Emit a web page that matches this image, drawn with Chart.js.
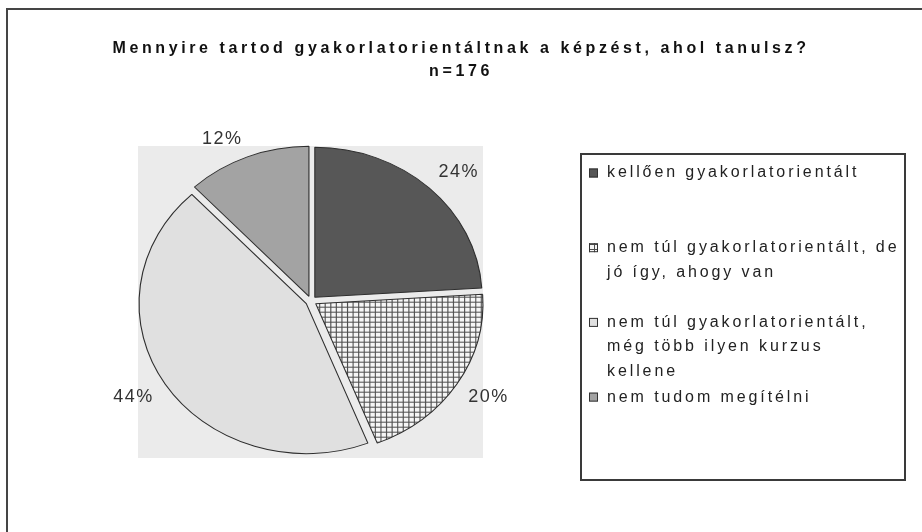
<!DOCTYPE html>
<html lang="hu">

<head>
    <meta charset="UTF-8">
    <title>Mennyire tartod gyakorlatorientáltnak a képzést?</title>
    <style>
        html, body { margin: 0; padding: 0; background: #fff; }
    </style>
</head>

<body>
    <canvas id="ctx" width="922" height="532"></canvas>

    <script src="https://cdn.jsdelivr.net/npm/chart.js"></script>
    <script>
        // Data
        const titleLines = ['Mennyire tartod gyakorlatorientáltnak a képzést, ahol tanulsz?', 'n=176'];
        const categories = [
            'kellően gyakorlatorientált',
            'nem túl gyakorlatorientált, de jó így, ahogy van',
            'nem túl gyakorlatorientált, még több ilyen kurzus kellene',
            'nem tudom megítélni'
        ];
        // how the legend wraps each category
        const legendLines = [
            ['kellően gyakorlatorientált'],
            ['nem túl gyakorlatorientált, de', 'jó így, ahogy van'],
            ['nem túl gyakorlatorientált,', 'még több ilyen kurzus', 'kellene'],
            ['nem tudom megítélni']
        ];
        const percents = [24, 20, 44, 12];

        const canvas = document.getElementById('ctx');
        const ctx = canvas.getContext('2d');

        // grid hatch for the second slice
        function makeHatch() {
            const c = document.createElement('canvas');
            c.width = 5;
            c.height = 5;
            const g = c.getContext('2d');
            g.fillStyle = '#f6f6f6';
            g.fillRect(0, 0, 5, 5);
            g.fillStyle = '#4e4e4e';
            g.fillRect(4, 0, 1, 5);
            g.fillRect(0, 4, 5, 1);
            return ctx.createPattern(c, 'repeat');
        }

        const sliceColors = ['#575757', makeHatch(), '#e0e0e0', '#a3a3a3'];

        // the Excel pie is a bit wider than tall, and every slice is pulled out
        const stretchX = 1.115;
        const explode = 5;

        // right-hand layout box that holds the legend
        function drawLegend(chart) {
            const c = chart.ctx;
            c.save();
            c.strokeStyle = '#3a3a3a';
            c.lineWidth = 2;
            c.strokeRect(581, 154, 324, 326);
            c.font = '16px "Liberation Sans"';
            c.letterSpacing = '2.9px';
            c.textAlign = 'left';
            c.textBaseline = 'middle';
            legendLines.forEach((lines, i) => {
                const y0 = 173 + i * 74.7;
                c.fillStyle = sliceColors[i];
                c.fillRect(589, y0 - 4.5, 9, 9);
                c.strokeStyle = '#333';
                c.lineWidth = 1;
                c.strokeRect(589.5, y0 - 4, 8, 8);
                c.fillStyle = '#222';
                lines.forEach((t, j) => c.fillText(t, 607, y0 + j * 24.5));
            });
            c.restore();
        }

        const legendBoxPlugin = {
            id: 'legendBox',
            start(chart) {
                const box = {
                    position: 'right',
                    weight: 10,
                    fullSize: false,
                    options: {},
                    left: 0, top: 0, right: 0, bottom: 0, width: 0, height: 0,
                    isHorizontal() { return false; },
                    getPadding() { return { left: 0, top: 0, right: 0, bottom: 0 }; },
                    update(maxWidth, maxHeight) {
                        this.width = 300;
                        this.height = maxHeight;
                    },
                    draw() { drawLegend(chart); },
                    _layers() { return [{ z: 0, draw: () => this.draw() }]; }
                };
                chart.boxes.push(box);
            }
        };

        const pieDecor = {
            id: 'pieDecor',
            beforeDraw(chart) {
                const c = chart.ctx;
                // outer frame (only top and left visible)
                c.fillStyle = '#454545';
                c.fillRect(6, 8, 916, 2);
                c.fillRect(6, 8, 2, 524);
                // spaced-out title text
                c.letterSpacing = '3.6px';
            },
            beforeDatasetsDraw(chart) {
                const c = chart.ctx;
                c.letterSpacing = '0px';
                c.fillStyle = '#ebebeb';
                c.fillRect(138, 146, 345, 312);
            },
            beforeDatasetDraw(chart, args) {
                const c = chart.ctx;
                const arcs = args.meta.data;
                const cx = arcs[0].x;
                const cy = arcs[0].y;
                c.save();
                c.translate(cx, cy);
                c.scale(stretchX, 1);
                c.translate(-cx, -cy);
                arcs.forEach(arc => {
                    const mid = (arc.startAngle + arc.endAngle) / 2;
                    c.save();
                    c.translate(Math.cos(mid) * explode, Math.sin(mid) * explode);
                    arc.draw(c);
                    c.restore();
                });
                c.restore();
                return false;
            },
            afterDatasetsDraw(chart) {
                const c = chart.ctx;
                c.save();
                c.font = '18px "Liberation Sans"';
                c.letterSpacing = '1.5px';
                c.fillStyle = '#333';
                c.textBaseline = 'middle';
                chart.getDatasetMeta(0).data.forEach((arc, i) => {
                    const p = arc.getProps(['x', 'y', 'startAngle', 'endAngle', 'outerRadius']);
                    const mid = (p.startAngle + p.endAngle) / 2;
                    const cos = Math.cos(mid);
                    const sin = Math.sin(mid);
                    const r = p.outerRadius + 17;
                    const ax = p.x + cos * r * stretchX;
                    const ay = p.y + sin * r;
                    c.textAlign = cos >= 0 ? 'left' : 'right';
                    c.fillText(percents[i] + '%', ax, ay + (sin >= 0 ? 7 : -7));
                });
                c.restore();
            }
        };

        let myChart = new Chart(ctx, {
            type: 'pie',
            data: {
                labels: categories,
                datasets: [{
                    data: percents,
                    backgroundColor: sliceColors,
                    borderColor: '#2e2e2e',
                    borderWidth: 1
                }]
            },
            options: {
                responsive: false,
                animation: false,
                events: [],
                radius: 150,
                layout: { padding: { top: 0, bottom: 60, left: 0, right: 0 } },
                plugins: {
                    legend: { display: false },
                    tooltip: { enabled: false },
                    title: {
                        display: true,
                        text: titleLines,
                        color: '#111',
                        font: { family: 'Liberation Sans', size: 16, weight: 'bold', lineHeight: '23px' },
                        padding: { top: 37.5, bottom: 46.5 }
                    }
                }
            },
            plugins: [legendBoxPlugin, pieDecor]
        });
    </script>
</body>

</html>
